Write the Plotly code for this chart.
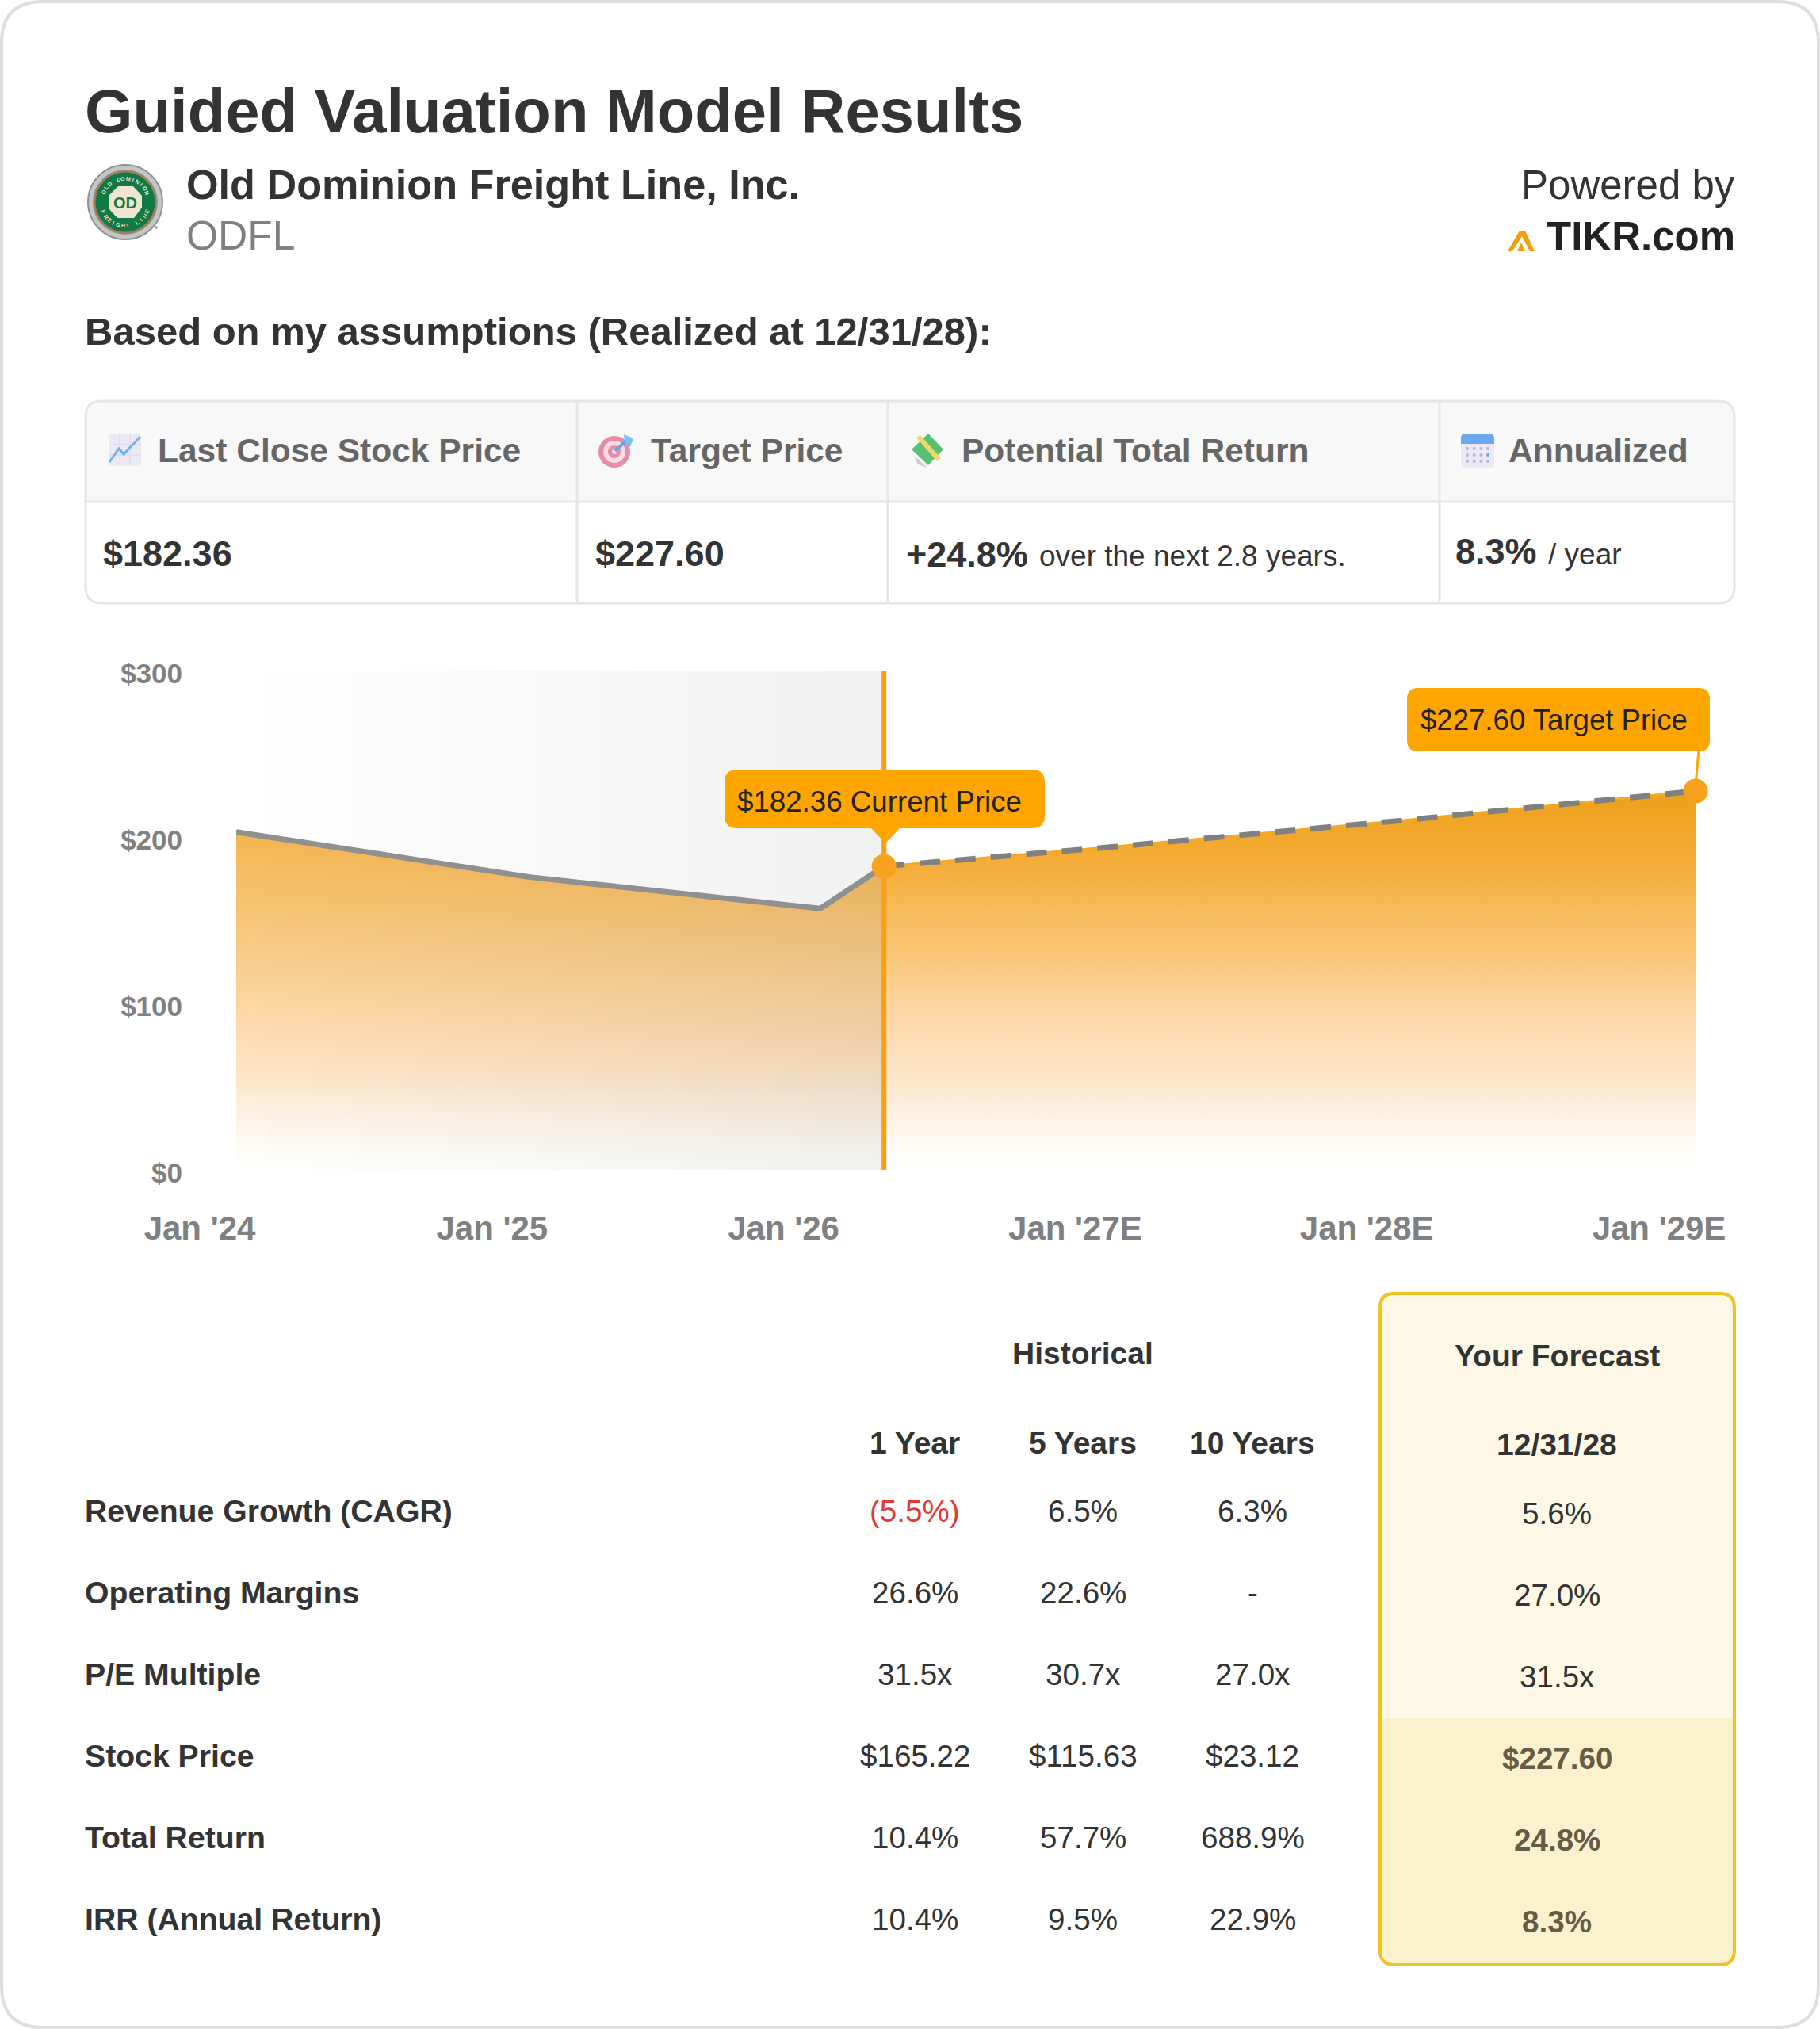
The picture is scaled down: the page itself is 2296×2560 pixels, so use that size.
import math
import plotly.graph_objects as go

W, H = 2296, 2560
FONT = "Liberation Sans"

# ---- chart data
hist_dates = ["2024-01-01", "2025-01-01", "2026-01-01", "2026-03-22"]
hist_prices = [203, 176, 157, 182.36]
fcst_dates = ["2026-03-22", "2027-01-01", "2028-01-01", "2029-01-01"]
fcst_prices = [182.36, 194, 210, 227.60]
x_tick_dates = ["2024-01-01", "2025-01-01", "2026-01-01", "2027-01-01", "2028-01-01", "2029-01-01"]
x_tick_labels = ["Jan '24", "Jan '25", "Jan '26", "Jan '27E", "Jan '28E", "Jan '29E"]
y_tick_values = [0, 100, 200, 300]
y_tick_labels = ["$0", "$100", "$200", "$300"]

# ---- table data
row_labels = ["Revenue Growth (CAGR)", "Operating Margins", "P/E Multiple", "Stock Price", "Total Return", "IRR (Annual Return)"]
hist_1y = ["(5.5%)", "26.6%", "31.5x", "$165.22", "10.4%", "10.4%"]
hist_5y = ["6.5%", "22.6%", "30.7x", "$115.63", "57.7%", "9.5%"]
hist_10y = ["6.3%", "-", "27.0x", "$23.12", "688.9%", "22.9%"]
forecast = ["5.6%", "27.0%", "31.5x", "$227.60", "24.8%", "8.3%"]
summary_heads = ["Last Close Stock Price", "Target Price", "Potential Total Return", "Annualized"]


def fx(x):
    return x / W


def fy(y):
    return 1 - y / H


shapes, annos = [], []


def text(s, x, y, size, color="#333333", bold=False, anchor="left", angle=0):
    annos.append(dict(text=s, x=fx(x), y=fy(y), xref="paper", yref="paper", showarrow=False,
                      xanchor=anchor, yanchor="middle", textangle=angle, borderpad=0,
                      font=dict(family=FONT, size=size, color=color, weight=700 if bold else 400)))


def path(pts, fill=None, line=None, lw=0, layer="above"):
    shapes.append(dict(type="path", path=pts, xref="paper", yref="paper", layer=layer,
                       fillcolor=fill or "rgba(0,0,0,0)",
                       line=dict(color=line or "rgba(0,0,0,0)", width=lw)))


def P(x, y):
    return f"{fx(x):.6f},{fy(y):.6f}"


def rrect(x0, y0, x1, y1, r, fill=None, line=None, lw=0, layer="above", tl=True, tr=True, br=True, bl=True):
    rtl, rtr, rbr, rbl = [r if f else 0 for f in (tl, tr, br, bl)]
    d = (f"M{P(x0 + rtl, y0)} L{P(x1 - rtr, y0)} Q{P(x1, y0)} {P(x1, y0 + rtr)} "
         f"L{P(x1, y1 - rbr)} Q{P(x1, y1)} {P(x1 - rbr, y1)} L{P(x0 + rbl, y1)} "
         f"Q{P(x0, y1)} {P(x0, y1 - rbl)} L{P(x0, y0 + rtl)} Q{P(x0, y0)} {P(x0 + rtl, y0)} Z")
    path(d, fill, line, lw, layer)


def poly(pts, fill=None, line=None, lw=0, layer="above", close=True):
    d = "M" + " L".join(P(*p) for p in pts) + (" Z" if close else "")
    path(d, fill, line, lw, layer)


def circle(cx, cy, r, fill=None, line=None, lw=0, layer="above"):
    shapes.append(dict(type="circle", xref="paper", yref="paper", layer=layer,
                       x0=fx(cx - r), x1=fx(cx + r), y0=fy(cy + r), y1=fy(cy - r),
                       fillcolor=fill or "rgba(0,0,0,0)",
                       line=dict(color=line or "rgba(0,0,0,0)", width=lw)))


# ---- card
rrect(2, 2, W - 2, H - 2, 52, "#ffffff", "#dedede", 4, layer="below")

# ---- header
text("Guided Valuation Model Results", 106, 140, 77.8, "#333333", True)
text("Old Dominion Freight Line, Inc.", 234, 233, 52.2, "#333333", True)
text("ODFL", 234, 297, 51.5, "#808080")
text("Powered by", 2190, 233, 51, "#333333", anchor="right")
text("TIKR.com", 2190, 298, 51, "#222222", True, anchor="right")
text("Based on my assumptions (Realized at 12/31/28):", 106, 418, 49, "#333333", True)

# logo
lx, ly = 158, 255
circle(lx, ly, 47, "#c4c7c6", "#8d9190", 2)
circle(lx, ly, 41, "#8f9391")
circle(lx, ly, 39.5, "#a8794a")
circle(lx, ly, 37.5, "#0f7a45")
poly([(lx - 21, ly - 8), (lx - 9, ly - 20), (lx + 10, ly - 20), (lx + 21, ly - 8), (lx + 21, ly + 7),
      (lx + 11, ly + 20), (lx - 10, ly + 20), (lx - 21, ly + 8)], "#efe6cf")
text("OD", lx, ly + 1, 20, "#0f7a45", True, anchor="center")
for word, start, step, offset in (("OLD DOMINION", -65, 12, 0), ("FREIGHT LINE", 245, -12, 180)):
    for i, ch in enumerate(word):
        ang = start + i * step
        text(ch, lx + 30 * math.sin(math.radians(ang)), ly - 30 * math.cos(math.radians(ang)), 7,
             "#efe6cf", True, anchor="center", angle=ang + offset)
circle(197, 287, 2, "#aaaaaa")

# TIKR mark
poly([(1917, 291), (1924, 291), (1936, 317), (1930, 317), (1920, 298), (1908, 317), (1902, 317)], "#f59e0b")
poly([(1919, 306), (1924, 317), (1914, 317)], "#f59e0b")

# ---- summary table
TX0, TX1, TY0, TY1, TYM = 108, 2188, 506, 761, 633
rrect(TX0, TY0, TX1, TYM, 20, "#f8f8f8", layer="below", bl=False, br=False)
rrect(TX0, TY0, TX1, TY1, 20, None, "#e6e6e6", 3, layer="below")
for xs in (728, 1120, 1816):
    poly([(xs, TY0), (xs, TY1)], None, "#e6e6e6", 3, layer="below", close=False)
poly([(TX0, TYM), (TX1, TYM)], None, "#e6e6e6", 3, layer="below", close=False)
for s, x in zip(summary_heads, (198, 820, 1212, 1902)):
    text(s, x, 568, 42.5, "#666666", True)
text("$182.36", 129, 698, 45, "#333333", True)
text("$227.60", 750, 698, 45, "#333333", True)
text("+24.8%", 1142, 699, 45, "#333333", True)
text("over the next 2.8 years.", 1310, 702, 37, "#333333")
text("8.3%", 1835, 695, 45, "#333333", True)
text("/ year", 1952, 699, 37, "#333333")

# chart emoji
rrect(137, 547, 178, 588, 5, "#ece9f6")
for g in (151, 164):
    poly([(g, 547), (g, 588)], None, "#d9d5ea", 1, close=False)
    poly([(137, g + 410), (178, g + 410)], None, "#d9d5ea", 1, close=False)
poly([(138, 583), (150, 566), (156, 573), (177, 551)], None, "#6fb3ee", 3, close=False)
# target emoji
circle(775, 570, 20, "#e88aa8")
circle(775, 570, 14, "#f7dce4")
circle(775, 570, 8, "#e88aa8")
circle(775, 570, 3, "#f7dce4")
poly([(776, 569), (793, 553)], None, "#5aa9e6", 4, close=False)
poly([(787, 548), (799, 553), (795, 564), (788, 558)], "#7cc0f0")
# money emoji
poly([(1171, 547), (1190, 567), (1171, 587), (1150, 567)], "#56c271")
poly([(1156, 552), (1161, 549), (1187, 578), (1182, 582)], "#f2d86a")
poly([(1153, 575), (1170, 590), (1158, 586)], "#c9ccd0")
# calendar emoji
rrect(1843, 547, 1885, 590, 6, "#ece8f6")
rrect(1843, 547, 1885, 560, 6, "#6ea8f0", bl=False, br=False)
for r in range(3):
    for c in range(4):
        circle(1851 + c * 8.7, 566 + r * 8, 2, "#5aa0ea" if (r, c) == (1, 3) else "#b9b5cf")

# ---- callouts
rrect(914, 971, 1318, 1045, 16, "#ffa500")
poly([(1098, 1044), (1136, 1044), (1117, 1064)], "#ffa500")
text("$182.36 Current Price", 929, 1011, 36.7, "#222222")
rrect(1775, 868, 2157, 948, 14, "#ffa500")
poly([(2143, 947), (2139, 990)], None, "#ffa500", 3, close=False)
text("$227.60 Target Price", 1791, 908, 36.6, "#222222")

# ---- lower table
rrect(1741, 1632, 2188, 2479, 18, "#fef9e7", layer="below")
rrect(1741, 2168, 2188, 2479, 18, "#fbf2cd", layer="below", tl=False, tr=False)
rrect(1741, 1632, 2188, 2479, 18, None, "#f2c21f", 4, layer="below")
col_x = (1154, 1366, 1580)
text("Historical", 1366, 1707, 39, "#333333", True, "center")
for s, x in zip(("1 Year", "5 Years", "10 Years"), col_x):
    text(s, x, 1820, 39, "#333333", True, "center")
text("Your Forecast", 1964, 1710, 39, "#333333", True, "center")
text("12/31/28", 1964, 1822, 39, "#333333", True, "center")
row_y = (1906, 2009, 2112, 2215, 2318, 2421)
for i, y in enumerate(row_y):
    text(row_labels[i], 106, y, 39.2, "#333333", True)
    text(hist_1y[i], col_x[0], y, 38.6, "#e53935" if hist_1y[i].startswith("(") else "#333333", anchor="center")
    text(hist_5y[i], col_x[1], y, 38.6, anchor="center")
    text(hist_10y[i], col_x[2], y, 38.6, anchor="center")
    hl = i >= 3
    text(forecast[i], 1964, y + 3, 38.6, "#665c45" if hl else "#333333", hl, "center")

# ---- traces
fc_scale = [[0, "#ffffff"], [0.03, "#fffefc"], [0.13, "#fef3e6"], [0.24, "#fde6cb"], [0.35, "#fddcb4"],
            [0.45, "#fcd49c"], [0.56, "#fac678"], [0.67, "#f8bc60"], [0.77, "#f6b040"], [0.88, "#f2a82c"], [1, "#eca11a"]]
hi_scale = [[0, "#ffffff"], [0.03, "#fffefc"], [0.15, "#fef3e6"], [0.27, "#fde6cb"], [0.39, "#fddcb4"],
            [0.5, "#fbd6a0"], [0.75, "#f7c577"], [1, "#f4b54f"]]

fig = go.Figure()
fig.add_trace(go.Scatter(x=hist_dates, y=hist_prices, mode="none", fill="tozeroy",
                         fillgradient=dict(type="vertical", start=0, stop=203, colorscale=hi_scale)))
fig.add_trace(go.Scatter(x=fcst_dates, y=fcst_prices, mode="lines", fill="tozeroy",
                         line=dict(color="#f7a823", width=3),
                         fillgradient=dict(type="vertical", start=0, stop=227.6, colorscale=fc_scale)))
band_x = [hist_dates[0], hist_dates[-1], hist_dates[-1], hist_dates[0]]
band_y = [y_tick_values[-1], y_tick_values[-1], y_tick_values[0], y_tick_values[0]]
fig.add_trace(go.Scatter(x=band_x, y=band_y, mode="none", fill="toself",
                         fillgradient=dict(type="horizontal", colorscale=[[0, "rgba(0,0,0,0)"], [1, "rgba(0,0,0,0.055)"]])))
fig.add_trace(go.Scatter(x=hist_dates, y=hist_prices, mode="lines", line=dict(color="#909090", width=7), cliponaxis=False))
fig.add_trace(go.Scatter(x=fcst_dates, y=fcst_prices, mode="lines",
                         line=dict(color="#808080", width=7, dash="26px,19px"), cliponaxis=False))
fig.add_trace(go.Scatter(x=[hist_dates[-1], hist_dates[-1]], y=[y_tick_values[0], y_tick_values[-1]], mode="lines",
                         line=dict(color="#f9a010", width=6), cliponaxis=False))
fig.add_trace(go.Scatter(x=[fcst_dates[0], fcst_dates[-1]], y=[fcst_prices[0], fcst_prices[-1]], mode="markers",
                         marker=dict(color="#f7a21e", size=31), cliponaxis=False))

fig.update_layout(
    width=W, height=H, margin=dict(l=0, r=0, t=0, b=0, autoexpand=False), showlegend=False,
    paper_bgcolor="#ffffff", plot_bgcolor="rgba(0,0,0,0)", hovermode=False,
    shapes=shapes, annotations=annos,
    xaxis=dict(type="date", domain=[fx(298), fx(2139)], range=[x_tick_dates[0], x_tick_dates[-1]],
               tickmode="array", tickvals=x_tick_dates, ticktext=x_tick_labels, showgrid=False, zeroline=False,
               showline=False, ticks="", ticklabelshift=-46, ticklabelstandoff=45, automargin=False,
               tickfont=dict(family=FONT, size=42, color="#808080", weight=700), anchor="y"),
    yaxis=dict(domain=[fy(1476), fy(846)], range=[0, 300], tickmode="array", tickvals=y_tick_values,
               ticktext=y_tick_labels, showgrid=False, zeroline=False, showline=False, ticks="",
               ticklabelshift=4, ticklabelstandoff=67, automargin=False,
               tickfont=dict(family=FONT, size=35, color="#808080", weight=700), anchor="x"),
)
fig.write_html("out.html", config={"displayModeBar": False},
               post_script="document.body.style.margin='0';document.body.style.overflow='hidden';window.dispatchEvent(new Event('resize'));")
